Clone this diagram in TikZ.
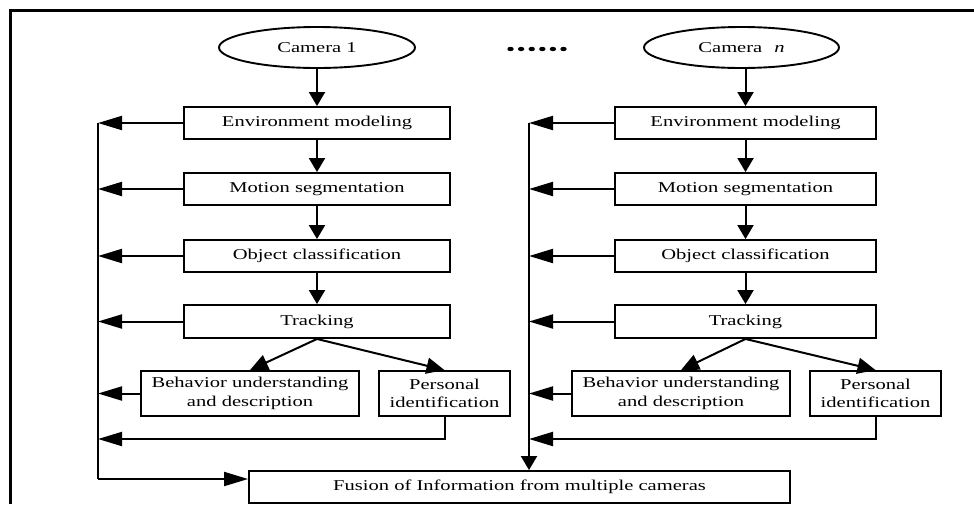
\documentclass[tikz,border=0pt]{standalone}
\usepackage{fontspec}
\setmainfont{Liberation Serif}[FakeStretch=1.37]
\usetikzlibrary{arrows.meta,shapes.geometric}
\begin{document}
\begin{tikzpicture}[x=1pt,y=-1pt,
  every node/.style={font=\fontsize{15}{18.5}\selectfont},
  stage/.style={draw,line width=1.9pt,rectangle,inner sep=0pt,align=center},
  cam/.style={draw,line width=1.9pt,ellipse,inner sep=0pt,minimum width=196pt,minimum height=41pt},
  link/.style={line width=2pt},
  harrow/.style={link,-{Triangle[length=24pt,width=14pt]}},
  varrow/.style={link,-{Triangle[length=14pt,width=16pt]}},
  darrow/.style={link,-{Triangle[length=18pt,width=16pt]}},
]
\useasboundingbox (0,0) rectangle (974,504);

% outer frame (left and top edges)
\draw[line width=3pt] (10,504) -- (10,10) -- (974,10);

% ---- camera 1 pipeline ----
\node[cam] (camA) at (317,47.5) {Camera 1};
\node[stage,minimum width=266pt,minimum height=32pt] (envA) at (317,123) {Environment modeling};
\node[stage,minimum width=266pt,minimum height=32pt] (motA) at (317,189) {Motion segmentation};
\node[stage,minimum width=266pt,minimum height=32pt] (objA) at (317,256) {Object classification};
\node[stage,minimum width=266pt,minimum height=33pt] (trkA) at (317,321.5) {Tracking};
\node[stage,minimum width=218pt,minimum height=45pt] (behA) at (250,393.5) {Behavior understanding\\and description};
\node[stage,minimum width=131pt,minimum height=45pt] (perA) at (444.5,393.5) {Personal\\identification};

% ---- camera n pipeline ----
\node[cam,minimum width=195pt] (camB) at (741.5,47.5) {Camera\hspace{0.8em}\textit{n}};
\node[stage,minimum width=261pt,minimum height=32pt] (envB) at (745.5,123) {Environment modeling};
\node[stage,minimum width=261pt,minimum height=32pt] (motB) at (745.5,189) {Motion segmentation};
\node[stage,minimum width=261pt,minimum height=32pt] (objB) at (745.5,256) {Object classification};
\node[stage,minimum width=261pt,minimum height=33pt] (trkB) at (745.5,321.5) {Tracking};
\node[stage,minimum width=218pt,minimum height=45pt] (behB) at (681,393.5) {Behavior understanding\\and description};
\node[stage,minimum width=131pt,minimum height=45pt] (perB) at (875.5,393.5) {Personal\\identification};

% fusion stage
\node[stage,minimum width=541pt,minimum height=32pt] (fus) at (519.5,487) {Fusion of Information from multiple cameras};

% ellipsis between the cameras
\foreach \i in {0,...,5}
  \fill (510.5+10.6*\i,49) ellipse [x radius=3.2pt, y radius=2.2pt];

% bus coordinates
\coordinate (busAtop) at (98,123);
\coordinate (busAbot) at (98,479);
\coordinate (retA) at (98,439);
\coordinate (busBtop) at (529,123);
\coordinate (retB) at (529,439);

% ---- flow, camera 1 ----
\draw[varrow] (envA.north |- camA.south) -- (envA.north);
\draw[varrow] (envA.south) -- (motA.north);
\draw[varrow] (motA.south) -- (objA.north);
\draw[varrow] (objA.south) -- (trkA.north);
\draw[darrow] (trkA.south) -- (behA.north);
\draw[darrow] (trkA.south) -- (perA.north);

\draw[link] (busAtop) -- (busAbot);
\draw[harrow] (busAbot) -- (busAbot -| fus.west);
\draw[harrow] (envA.west) -- (envA.west -| busAtop);
\draw[harrow] (motA.west) -- (motA.west -| busAtop);
\draw[harrow] (objA.west) -- (objA.west -| busAtop);
\draw[harrow] (trkA.west) -- (trkA.west -| busAtop);
\draw[harrow] (behA.west) -- (behA.west -| busAtop);
\draw[harrow] (perA.south) |- (retA);

% ---- flow, camera n ----
\draw[varrow] (envB.north |- camB.south) -- (envB.north);
\draw[varrow] (envB.south) -- (motB.north);
\draw[varrow] (motB.south) -- (objB.north);
\draw[varrow] (objB.south) -- (trkB.north);
\draw[darrow] (trkB.south) -- (behB.north);
\draw[darrow] (trkB.south) -- (perB.north);

\draw[varrow] (busBtop) -- (busBtop |- fus.north);
\draw[harrow] (envB.west) -- (envB.west -| busBtop);
\draw[harrow] (motB.west) -- (motB.west -| busBtop);
\draw[harrow] (objB.west) -- (objB.west -| busBtop);
\draw[harrow] (trkB.west) -- (trkB.west -| busBtop);
\draw[harrow] (behB.west) -- (behB.west -| busBtop);
\draw[harrow] (perB.south) |- (retB);
\end{tikzpicture}
\end{document}
